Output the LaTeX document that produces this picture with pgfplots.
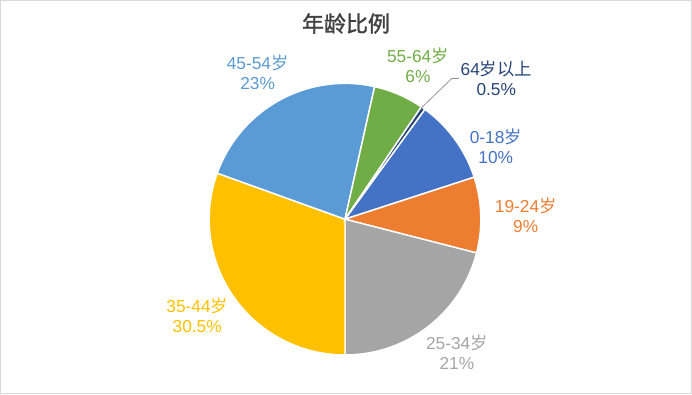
\documentclass[border=0pt]{standalone}
\usepackage{fontspec}
\setmainfont{Liberation Sans}
\newfontfamily\cjk{Noto Sans CJK SC}
\newfontfamily\cjktitle{Noto Sans CJK SC}[FakeBold=1.3]
\usepackage{pgfplots}
\pgfplotsset{compat=1.18}
\definecolor{cA}{HTML}{4472C4}
\definecolor{cB}{HTML}{ED7D31}
\definecolor{cC}{HTML}{A5A5A5}
\definecolor{cD}{HTML}{FFC000}
\definecolor{cE}{HTML}{5B9BD5}
\definecolor{cF}{HTML}{70AD47}
\definecolor{cG}{HTML}{264478}
\definecolor{borderGray}{HTML}{D9D9D9}
\definecolor{titleGray}{HTML}{404040}
% #1 colour, #2 cumulative percent before this slice, #3 percent of this slice
\newcommand{\slice}[3]{%
  \addplot[fill=#1, draw=white, line width=1.1pt, domain={54-3.6*(#2+#3)}:{54-3.6*(#2)}, samples=90, variable=\t]
    ({345+136*cos(\t)}, {219-136*sin(\t)}) -- (axis cs:345,219) -- cycle;}
\begin{document}
\begin{tikzpicture}
\begin{axis}[
  scale only axis, width=519pt, height=295.5pt,
  xmin=0, xmax=692, ymin=0, ymax=394, y dir=reverse,
  axis line style={draw=borderGray, line width=0.75pt},
  ticks=none, clip=false,
]
\slice{cA}{0}{10}
\slice{cB}{10}{9}
\slice{cC}{19}{21}
\slice{cD}{40}{30.5}
\slice{cE}{70.5}{23}
\slice{cF}{93.5}{6}
\slice{cG}{99.5}{0.5}
\addplot[draw=cC!90!black, line width=0.6pt] coordinates {(421,108) (452,78) (459,78)};
\node[text=titleGray, font=\cjktitle\fontsize{16.5}{19}\selectfont] at (axis cs:346,23) {年龄比例};
\tikzset{lab/.style={align=center, font=\fontsize{13}{15}\selectfont}}
\node[lab, text=cE] at (axis cs:257.5,72) {45-54{\cjk 岁}\\23\%};
\node[lab, text=cF] at (axis cs:418,65) {55-64{\cjk 岁}\\6\%};
\node[lab, text=cG] at (axis cs:496.5,77.5) {64{\cjk 岁以上}\\0.5\%};
\node[lab, text=cA] at (axis cs:496,146) {0-18{\cjk 岁}\\10\%};
\node[lab, text=cB] at (axis cs:526,215) {19-24{\cjk 岁}\\9\%};
\node[lab, text=cD] at (axis cs:197,315) {35-44{\cjk 岁}\\30.5\%};
\node[lab, text=cC] at (axis cs:457,352) {25-34{\cjk 岁}\\21\%};
\end{axis}
\end{tikzpicture}
\end{document}
